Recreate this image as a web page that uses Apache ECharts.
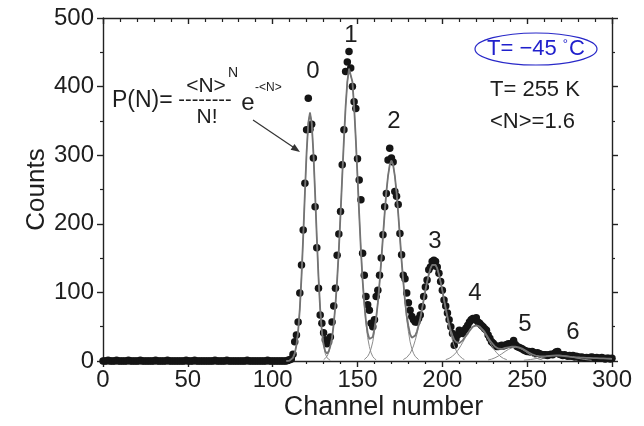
<!DOCTYPE html>
<html><head><meta charset="utf-8">
<script src="https://cdn.jsdelivr.net/npm/echarts@6/dist/echarts.min.js"></script>
<style>html,body{margin:0;padding:0;background:#fff}#c{width:644px;height:426px}</style>
</head><body><div id="c"></div>
<script>
// ---- measured counts (one value per channel) ----
const baselineStart = 0;
const baselineCounts = [0,0,0,1,0,0,0,0,1,0, 0,0,0,0,0,1,0,0,0,0, 0,0,1,0,0,0,0,0,0,0, 0,1,0,0,0,0,0,0,1,0, 0,0,0,0,0,0,0,0,0,1, 0,0,0,0,1,0,0,0,0,0, 0,0,0,0,0,0,1,0,0,0, 0,0,0,1,0,0,0,0,0,0, 0,0,0,0,0,1,0,0,0,0, 0,0,0,0,0,0,0,1,0,0, 0,0,0,0,0,0,0,0,0,1, 2,3];
const peaks01Start = 112;
const peaks01Counts = [10,28,38,57,99,140,191,259,337,383, 338,345,296,225,165,106,67,55,41,31, 25,28,35,57,80,106,154,185,218,286, 337,422,436,451,427,400,378,368,295,264, 235,157,125,94,82,74];
const peaks23Start = 158;
const peaks23Counts = [55,50,60,94,103,125,150,184,225,244, 293,310,296,290,247,240,228,186,155,125, 120,99,85,74,65,60,57,57,62,67, 79,94,108,118,133,137,145,147,145,137, 128,116,103,89,80,70,60,50,40];
const tailStart = 207;
const tailCounts = [23,32,38,45,42,40,45,48,52,57, 60,62,60,63,57,55,52,50,47,45, 38,33,28,26,23,21,21,22,23,22, 23,24,25,24,26,30,24,21,20,19, 18,16,15,14,14,13,14,12,11,12, 11,10,9,9,9,8,9,10,9,11, 13,14,10,9,8,9,8,7,8,7, 8,6,7,6,5,6,5,4,5,4, 5,6,5,4,5,4,4,5,4,3, 4,4,3,4];

// ---- fitted curves ----
const totalFitStart = 108;
const totalFit = [0,0,0.7,1.9,4.8,11,23,43,76,123, 181,245,304,347,362,347,304,245,181,123, 76,43,24,14,11,14,22,34,54,82, 118,162,214,269,323,371,407,426,426,407, 371,323,269,214,162,118,84,58,41,32, 30,35,47,63,85,114,146,181,215,246, 270,286,292,286,270,246,215,181,146,116, 88,66,51,39,34,33,37,43,52,62, 75,89,103,115,126,135,140,142,140,135, 126,115,103,89,77,65,54,44,37,31, 28,26,26,28,30,34,36,40,44,47, 50,52,52,52,50,48,45,42,38,34, 30,27,24,21,19,18,17.5,17.5,18,19, 19.5,20,20.5,21,21,21,21,20,19,18, 16.6,15.2,13.7,12.3,11,9.8,8.8,8,7.5,7.1, 6.9,6.8,6.9,7.1,7.2,7.5,7.6,7.8,7.9,8, 8,8,7.8,7.5,7.2,6.9,6.6,6.3,6,5.8, 5.6,5.4,5.2,5.1,5,4.9,4.8,4.7,4.6,4.5, 4.4,4.3,4.2,4.1,4,3.9,3.8,3.7,3.6,3.5, 3.4,3.3,3.2];
const fit0Start = 110;
const fit0 = [0.7,1.9,4.8,10.9,22.7,43,76,123,181,245,304,347,362,347,304,245,181,123,76,43,22.7,10.9,4.8,1.9,0.7];
const fit1Start = 130;
const fit1 = [1.7,3.5,6.5,12,21,34,54,82,118,162,214,269,323,371,407,426,426,407,371,323,269,214,162,118,82,54,34,21,12,6.5,3.5,1.7];
const fit2Start = 154;
const fit2 = [2.1,3.9,6.7,11.3,18,28,43,61,85,114,146,181,215,246,270,286,292,286,270,246,215,181,146,114,85,61,43,28,18,11.3,6.7,3.9,2.1];
const fit3Start = 177;
const fit3 = [2.1,3.3,5.1,7.7,11,16,22,30,39,50,62,75,89,103,115,126,135,140,142,140,135,126,115,103,89,75,62,50,39,30,22,16,11,7.7,5.1,3.3,2.1];
const fit4Start = 202;
const fit4 = [1.9,2.7,3.8,5.2,7,9.3,12,15.1,18.7,22.8,27.1,31.5,36.1,40.3,44.2,47.4,49.9,51.5,52,51.5,49.9,47.4,44.2,40.3,36.1,31.5,27.1,22.8,18.7,15.1,12,9.3,7,5.2,3.8,2.7,1.9];
const fit5Start = 227;
const fit5 = [1.5,2,2.7,3.6,4.6,5.8,7.2,8.8,10.4,12.1,13.9,15.5,17,18.2,19.2,19.8,20,19.8,19.2,18.2,17,15.5,13.9,12.1,10.4,8.8,7.2,5.8,4.6,3.6,2.7,2,1.5];
const fit6Start = 248;
const fit6 = [1.1,1.3,1.6,1.9,2.2,2.6,3,3.4,3.9,4.4,4.9,5.3,5.8,6.3,6.7,7.1,7.4,7.6,7.8,8,8,8,7.8,7.6,7.4,7.1,6.7,6.3,5.8,5.3,4.9,4.4,3.9,3.4,3,2.6,2.2,1.9,1.6,1.3,1.1];

const peakLabels = ['0','1','2','3','4','5','6'];

function seq(start, vals){ return vals.map((v,i)=>[start+i, v]); }

const points = [].concat(seq(baselineStart, baselineCounts), seq(peaks01Start, peaks01Counts),
  seq(peaks23Start, peaks23Counts), seq(tailStart, tailCounts));
const comps = [[fit0Start,fit0],[fit1Start,fit1],[fit2Start,fit2],[fit3Start,fit3],[fit4Start,fit4],[fit5Start,fit5],[fit6Start,fit6]];

const FONT = '"Liberation Sans", Arial, sans-serif';
const TXT = '#1e1e1e';

const series = [{
  type:'scatter', data: points, symbol:'circle', symbolSize:7.5,
  itemStyle:{color:'#151515', opacity:1}, z:2, silent:true
}];
comps.forEach(([s,v])=>{
  series.push({type:'line', data: seq(s,v), showSymbol:false, symbol:'none',
    lineStyle:{color:'#8c8c8c', width:1}, z:3, silent:true});
});
series.push({type:'line', data: seq(totalFitStart,totalFit), showSymbol:false, symbol:'none',
  lineStyle:{color:'#747474', width:1.8}, z:4, silent:true});

const peakPos = [[313,71],[351,35],[394,121],[435,241],[475,293],[525,324],[573,332]];
const graphics = peakLabels.map((t,i)=>({type:'text', x:peakPos[i][0], y:peakPos[i][1], z:10,
  style:{text:t, font:'24px '+FONT, fill:TXT, align:'center', verticalAlign:'middle'}}));

graphics.push(
  {type:'text', x:112, y:101, style:{text:'P(N)=', font:'23px '+FONT, fill:TXT, align:'left', verticalAlign:'middle'}},
  {type:'text', x:206, y:86, style:{text:'<N>', font:'21px '+FONT, fill:TXT, align:'center', verticalAlign:'middle'}},
  {type:'text', x:233, y:73, style:{text:'N', font:'14px '+FONT, fill:TXT, align:'center', verticalAlign:'middle'}},
  {type:'text', x:205, y:100, style:{text:'--------', font:'20px '+FONT, fill:TXT, align:'center', verticalAlign:'middle'}},
  {type:'text', x:207, y:117, style:{text:'N!', font:'21px '+FONT, fill:TXT, align:'center', verticalAlign:'middle'}},
  {type:'text', x:248, y:103, style:{text:'e', font:'24px '+FONT, fill:TXT, align:'center', verticalAlign:'middle'}},
  {type:'text', x:255, y:88, style:{text:'-<N>', font:'12px '+FONT, fill:TXT, align:'left', verticalAlign:'middle'}},
  {type:'line', shape:{x1:253,y1:120,x2:296,y2:149}, style:{stroke:'#333', lineWidth:1.2}},
  {type:'polygon', shape:{points:[[300,152],[290.6,149.8],[294.5,144]]}, style:{fill:'#333'}},
  {type:'ellipse', shape:{cx:536, cy:49, rx:61, ry:16}, style:{fill:'none', stroke:'#2828c8', lineWidth:1.2}},
  {type:'text', x:536, y:49, style:{text:'T= \u221245 {d|\u00b0}C', rich:{d:{font:'13px '+FONT, fill:'#2020cc', verticalAlign:'top', padding:[0,1,10,0]}},
     font:'22px '+FONT, fill:'#2020cc', align:'center', verticalAlign:'middle'}},
  {type:'text', x:490, y:90, style:{text:'T= 255 K', font:'22px '+FONT, fill:TXT, align:'left', verticalAlign:'middle'}},
  {type:'text', x:490, y:122, style:{text:'<N>=1.6', font:'22px '+FONT, fill:TXT, align:'left', verticalAlign:'middle'}}
);

const axisLineStyle = {color:'#222', width:1.4};
const chart = echarts.init(document.getElementById('c'), null, {renderer:'canvas'});
chart.setOption({
  animation:false,
  backgroundColor:'#fff',
  grid:{left:103, right:32, top:18, bottom:65, containLabel:false},
  xAxis:[{
    type:'value', min:0, max:300, interval:50, position:'bottom',
    name:'Channel number', nameLocation:'middle', nameGap:33, nameMoveOverlap:false,
    nameTextStyle:{fontFamily:FONT, fontSize:27, color:TXT, padding:[0,0,0,52]},
    axisLine:{show:true, onZero:false, lineStyle:axisLineStyle},
    axisTick:{show:true, inside:false, length:6, lineStyle:axisLineStyle},
    minorTick:{show:true, splitNumber:5, length:3, lineStyle:{color:'#222', width:1.2}},
    axisLabel:{fontFamily:FONT, fontSize:24, color:TXT, margin:7},
    splitLine:{show:false}
  },{
    type:'value', min:0, max:300, interval:50, position:'top',
    axisLine:{show:true, onZero:false, lineStyle:axisLineStyle},
    axisTick:{show:true, inside:true, length:6, lineStyle:axisLineStyle},
    minorTick:{show:true, splitNumber:5, length:4, lineStyle:{color:'#222', width:1.2}},
    axisLabel:{show:false}, splitLine:{show:false}
  }],
  yAxis:[{
    type:'value', min:0, max:500, interval:100, position:'left',
    name:'Counts', nameLocation:'middle', nameGap:53, nameRotate:90, nameMoveOverlap:false,
    nameTextStyle:{fontFamily:FONT, fontSize:26, color:TXT},
    axisLine:{show:true, onZero:false, lineStyle:axisLineStyle},
    axisTick:{show:true, inside:false, length:6, lineStyle:axisLineStyle},
    minorTick:{show:true, splitNumber:2, length:3, lineStyle:{color:'#222', width:1.2}},
    axisLabel:{fontFamily:FONT, fontSize:24, color:TXT, margin:9},
    splitLine:{show:false}
  },{
    type:'value', min:0, max:500, interval:100, position:'right',
    axisLine:{show:true, onZero:false, lineStyle:axisLineStyle},
    axisTick:{show:true, inside:false, length:6, lineStyle:axisLineStyle},
    minorTick:{show:true, splitNumber:2, length:3, lineStyle:{color:'#222', width:1.2}},
    axisLabel:{show:false}, splitLine:{show:false}
  }],
  series: series,
  graphic: graphics
});
</script></body></html>
